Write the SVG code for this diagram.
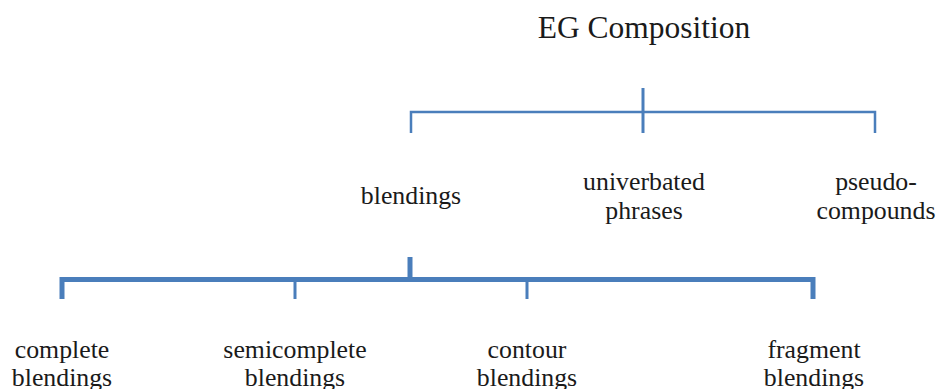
<svg xmlns="http://www.w3.org/2000/svg" width="938" height="389" viewBox="0 0 938 389">
<style>
text{font-family:"Liberation Serif","Times New Roman",serif;font-size:25.8px;fill:#1a1a1a;text-anchor:middle}
.c{stroke:#4a7ebb;fill:none;stroke-linecap:butt}
</style>
<rect width="938" height="389" fill="#fff"/>
<g id="connectors">
<path class="c" stroke-width="2.5" d="M411,133 V112 H875 V133"/>
<path class="c" stroke-width="3" d="M643,88 V133"/>
<path class="c" stroke-width="5" d="M62,299 V279.5 H813 V299"/>
<path class="c" stroke-width="3" d="M295,279 V299 M527,279 V299"/>
<path class="c" stroke-width="5" d="M410,257 V279"/>
</g>
<g id="root"><text x="644" y="38" style="font-size:31.5px">EG Composition</text></g>
<g id="blendings"><text x="411" y="204">blendings</text></g>
<g id="univerbated"><text x="644" y="190">univerbated</text><text x="644" y="219">phrases</text></g>
<g id="pseudo"><text x="876" y="190">pseudo-</text><text x="876" y="219">compounds</text></g>
<g id="complete"><text x="62" y="358">complete</text><text x="62" y="386">blendings</text></g>
<g id="semicomplete"><text x="295" y="358">semicomplete</text><text x="295" y="386">blendings</text></g>
<g id="contour"><text x="527" y="358">contour</text><text x="527" y="386">blendings</text></g>
<g id="fragment"><text x="814" y="358">fragment</text><text x="814" y="386">blendings</text></g>
</svg>
